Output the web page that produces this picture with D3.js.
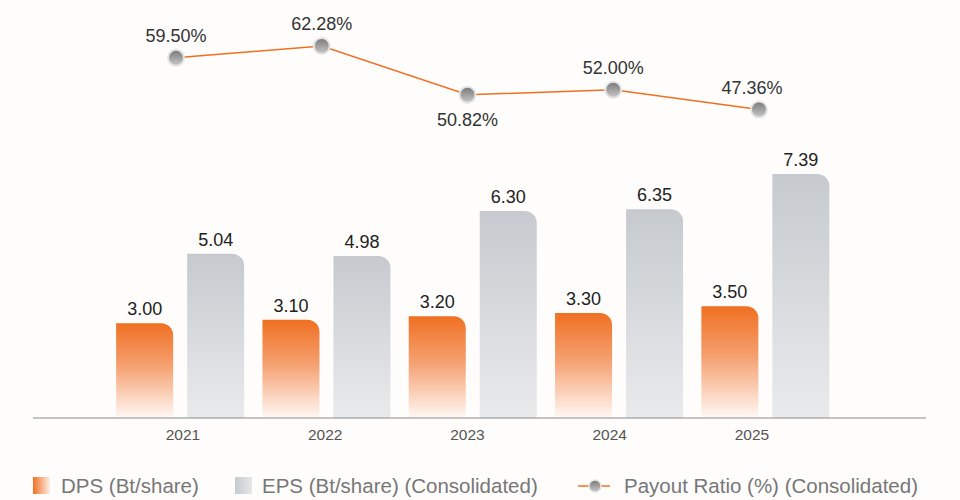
<!DOCTYPE html>
<html><head><meta charset="utf-8">
<script src="https://cdn.jsdelivr.net/npm/d3@7/dist/d3.min.js"></script>
<style>body{margin:0;background:#fefdfc;}svg{display:block;font-family:"Liberation Sans",Arial,sans-serif;}</style>
</head><body><svg id="c" width="960" height="500"></svg>
<script>
const years = ["2021","2022","2023","2024","2025"];
const dps = [3.00, 3.10, 3.20, 3.30, 3.50];
const eps = [5.04, 4.98, 6.30, 6.35, 7.39];
const payout = [59.50, 62.28, 50.82, 52.00, 47.36];
const seriesNames = ["DPS (Bt/share)", "EPS (Bt/share) (Consolidated)", "Payout Ratio (%) (Consolidated)"];

const svg = d3.select("#c");
const defs = svg.append("defs");
function lin(id, x2, y2, stops){
  const g = defs.append("linearGradient").attr("id", id).attr("x1",0).attr("y1",0).attr("x2",x2).attr("y2",y2);
  stops.forEach(s=>g.append("stop").attr("offset",s[0]).attr("stop-color",s[1]));
}
lin("gDps",0,1,[[0,"#f07022"],[0.45,"#f5a070"],[1,"#fff8f4"]]);
lin("gEps",0,1,[[0,"#c6cace"],[1,"#e9eaec"]]);
lin("gDpsL",1,0,[[0,"#f07022"],[1,"#fdf0e8"]]);
lin("gEpsL",1,0,[[0,"#c6cace"],[1,"#e6e7e9"]]);
lin("gDot",0,1,[[0,"#777"],[1,"#c9c9c9"]]);

const base = 418;
const x = d3.scaleBand().domain(years).range([107, 838.5]).paddingInner(0.125).paddingOuter(0.0625);
const xs = d3.scaleBand().domain(["DPS","EPS"]).range([0, x.bandwidth()]).paddingInner(0.197);
const y = d3.scaleLinear().domain([0.208, 7.39]).range([base, 174]);
const xl = d3.scalePoint().domain(years).range([183, 752]);
const xp = d3.scalePoint().domain(years).range([176, 759]);
const yp = d3.scaleLinear().domain([45, 65]).range([119.6, 34.4]);

function barPath(x0, w, yt, yb){
  const r = Math.min(12, w/2, yb-yt);
  return `M${x0},${yb}V${yt}H${x0+w-r}A${r},${r} 0 0 1 ${x0+w},${yt+r}V${yb}Z`;
}

const series = [{key:"DPS", vals:dps, fill:"url(#gDps)"},{key:"EPS", vals:eps, fill:"url(#gEps)"}];
series.forEach(s=>{
  const g = svg.append("g");
  g.selectAll("path").data(years).join("path")
    .attr("d",(d,i)=>barPath(x(d)+xs(s.key), xs.bandwidth(), y(s.vals[i]), base))
    .attr("fill", s.fill);
  g.selectAll("text").data(years).join("text")
    .attr("x",(d,i)=>x(d)+xs(s.key)+xs.bandwidth()/2)
    .attr("y",(d,i)=>y(s.vals[i])-8)
    .attr("text-anchor","middle").attr("font-size",18).attr("fill","#222")
    .text((d,i)=>s.vals[i].toFixed(2));
});

// axis
svg.append("line").attr("x1",33).attr("x2",926).attr("y1",base).attr("y2",base).attr("stroke","#8a8a8a").attr("stroke-width",1);
svg.append("g").selectAll("text").data(years).join("text")
  .attr("x",d=>xl(d)).attr("y",base+22).attr("text-anchor","middle")
  .attr("font-size",15.5).attr("fill","#555").text(d=>d);

// payout line
const line = d3.line().x((d,i)=>xp(years[i])).y(d=>yp(d));
svg.append("path").datum(payout).attr("d",line).attr("fill","none").attr("stroke","#f07022").attr("stroke-width",1.5);
svg.append("g").selectAll("circle").data(payout).join("circle")
  .attr("cx",(d,i)=>xp(years[i])).attr("cy",d=>yp(d)).attr("r",8)
  .attr("fill","url(#gDot)").attr("stroke","#e4e4e4").attr("stroke-width",2);
const below = [false,false,true,false,false];
const dxOff = [0,0,0,0,-7];
svg.append("g").selectAll("text").data(payout).join("text")
  .attr("x",(d,i)=>xp(years[i])+dxOff[i])
  .attr("y",(d,i)=>yp(d) + (below[i] ? 31 : -16))
  .attr("text-anchor","middle").attr("font-size",18).attr("fill","#333")
  .text(d=>d.toFixed(2)+"%");

// legend
const ly = 477;
svg.append("rect").attr("x",33).attr("y",ly).attr("width",17).attr("height",17).attr("fill","url(#gDpsL)");
svg.append("text").attr("x",61).attr("y",ly+16).attr("font-size",20.5).attr("fill","#777").text(seriesNames[0]);
svg.append("rect").attr("x",235).attr("y",ly).attr("width",17).attr("height",17).attr("fill","url(#gEpsL)");
svg.append("text").attr("x",262).attr("y",ly+16).attr("font-size",20.5).attr("fill","#777").text(seriesNames[1]);
svg.append("line").attr("x1",578).attr("x2",610).attr("y1",ly+9).attr("y2",ly+9).attr("stroke","#f07022").attr("stroke-width",1.5);
svg.append("circle").attr("cx",595).attr("cy",ly+9).attr("r",6).attr("fill","url(#gDot)").attr("stroke","#e4e4e4").attr("stroke-width",1.5);
svg.append("text").attr("x",624).attr("y",ly+16).attr("font-size",20.5).attr("fill","#777").text(seriesNames[2]);
</script></body></html>
